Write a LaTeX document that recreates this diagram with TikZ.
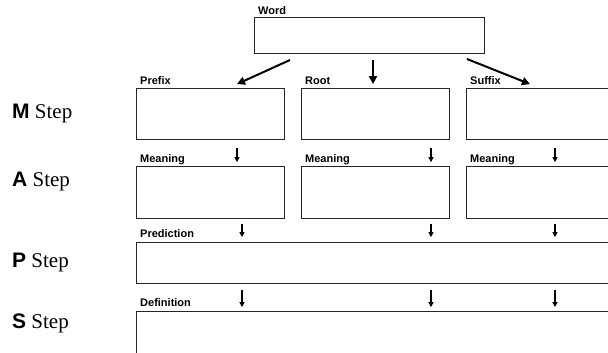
\documentclass[tikz,border=0pt]{standalone}
\usepackage{fontspec}
\setmainfont{Liberation Serif}
\setsansfont{Liberation Sans}
\usetikzlibrary{arrows.meta}
\usetikzlibrary{positioning}

\tikzset{
  box/.style={rectangle, draw=black!85, line width=0.9pt, anchor=south west, inner sep=0pt},
  lbl/.style={anchor=base west, inner sep=0pt, font=\sffamily\bfseries\fontsize{11}{13}\selectfont},
  steplbl/.style={anchor=west, inner sep=0pt, font=\fontsize{21}{24}\selectfont},
  arr/.style={-{Triangle[width=5pt,length=5pt]}, line width=1.3pt},
  bigarr/.style={-{Triangle[width=8pt,length=8pt]}, line width=2pt},
}

\begin{document}
\begin{tikzpicture}[x=1pt,y=1pt]
\useasboundingbox (0,0) rectangle (608,353);

\node at (254,299) [box, minimum width=230pt, minimum height=36pt] (word) {};
\node [lbl] at ([shift={(4pt,3pt)}]word.north west) {Word};

% M step
\node at (136,213) [box, minimum width=148pt, minimum height=51pt] (mprefix) {};
\node [lbl] at ([shift={(4pt,4pt)}]mprefix.north west) {Prefix};
\node at (301,213) [box, minimum width=148pt, minimum height=51pt] (mroot) {};
\node [lbl] at ([shift={(4pt,4pt)}]mroot.north west) {Root};
\node at (466,213) [box, minimum width=148pt, minimum height=51pt] (msuffix) {};
\node [lbl] at ([shift={(4pt,4pt)}]msuffix.north west) {Suffix};

% A step
\node at (136,134) [box, minimum width=148pt, minimum height=52pt] (aprefix) {};
\node [lbl] at ([shift={(4pt,4pt)}]aprefix.north west) {Meaning};
\node at (301,134) [box, minimum width=148pt, minimum height=52pt] (aroot) {};
\node [lbl] at ([shift={(4pt,4pt)}]aroot.north west) {Meaning};
\node at (466,134) [box, minimum width=148pt, minimum height=52pt] (asuffix) {};
\node [lbl] at ([shift={(4pt,4pt)}]asuffix.north west) {Meaning};

% P and S steps
\node at (136,69) [box, minimum width=480pt, minimum height=41pt] (pbox) {};
\node [lbl] at ([shift={(4pt,5pt)}]pbox.north west) {Prediction};
\node at (136,-10) [box, minimum width=480pt, minimum height=51pt] (sbox) {};
\node [lbl] at ([shift={(4pt,5pt)}]sbox.north west) {Definition};

\node [steplbl] at (12,239) (mstep) {\textsf{\bfseries M} Step};
\node [steplbl] at (12,171) (astep) {\textsf{\bfseries A} Step};
\node [steplbl] at (12,90) (pstep) {\textsf{\bfseries P} Step};
\node [steplbl] at (12,30) (sstep) {\textsf{\bfseries S} Step};

% word -> parts
\draw [bigarr] ([shift={(36pt,-6pt)}]word.south west) -- ([shift={(101pt,4pt)}]mprefix.north west);
\draw [bigarr] ([shift={(119pt,-6pt)}]word.south west) -- ([shift={(72pt,4pt)}]mroot.north west);
\draw [bigarr] ([shift={(213pt,-5pt)}]word.south west) -- ([shift={(64pt,4pt)}]msuffix.north west);

% M -> A
\draw [arr] ([shift={(101pt,-8pt)}]mprefix.south west) -- ([shift={(101pt,4pt)}]aprefix.north west);
\draw [arr] ([shift={(130pt,-8pt)}]mroot.south west) -- ([shift={(130pt,4pt)}]aroot.north west);
\draw [arr] ([shift={(89pt,-8pt)}]msuffix.south west) -- ([shift={(89pt,4pt)}]asuffix.north west);

% A -> P
\draw [arr] ([shift={(106pt,-5pt)}]aprefix.south west) -- ([shift={(106pt,5pt)}]pbox.north west);
\draw [arr] ([shift={(130pt,-5pt)}]aroot.south west) -- ([shift={(295pt,5pt)}]pbox.north west);
\draw [arr] ([shift={(89pt,-5pt)}]asuffix.south west) -- ([shift={(419pt,5pt)}]pbox.north west);

% P -> S
\draw [arr] ([shift={(106pt,-6pt)}]pbox.south west) -- ([shift={(106pt,4pt)}]sbox.north west);
\draw [arr] ([shift={(295pt,-6pt)}]pbox.south west) -- ([shift={(295pt,4pt)}]sbox.north west);
\draw [arr] ([shift={(419pt,-6pt)}]pbox.south west) -- ([shift={(419pt,4pt)}]sbox.north west);

\end{tikzpicture}
\end{document}
